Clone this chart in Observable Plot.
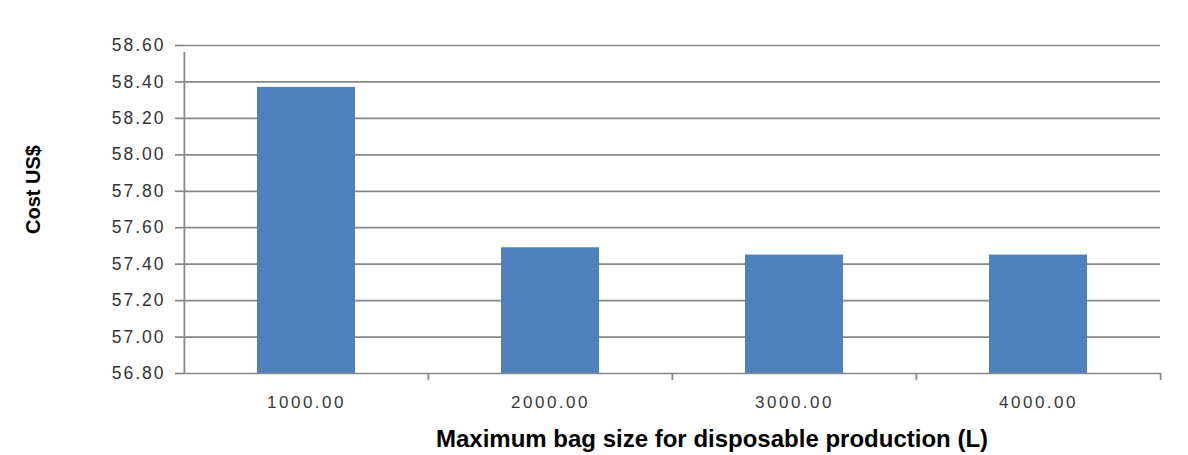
<!DOCTYPE html>
<html>
<head>
<meta charset="utf-8">
<script src="https://cdn.jsdelivr.net/npm/d3@7"></script>
<script src="https://cdn.jsdelivr.net/npm/@observablehq/plot@0.6"></script>
<style>
  body { margin: 0; background: #fff; }
  g[aria-label="y-axis tick label"] text { letter-spacing: 2px; }
  g[aria-label="x-axis tick label"] text { letter-spacing: 2.5px; }
  g[aria-label="y-title"] text { letter-spacing: 3.5px; }
  g[aria-label="x-title"] text { letter-spacing: 0.6px; }
</style>
</head>
<body>
<div id="chart"></div>
<script>
// Cost per bag size
const bagSizes = ["1000.00", "2000.00", "3000.00", "4000.00"];
const costs = [58.37, 57.49, 57.45, 57.45];
const yTicks = [56.8, 57.0, 57.2, 57.4, 57.6, 57.8, 58.0, 58.2, 58.4, 58.6];
const xTitle = "Maximum bag size for disposable production (L)";
const yTitle = "Cost US$";

const rows = bagSizes.map((size, i) => ({size, cost: costs[i]}));

const W = 1188, H = 455, mL = 183, mR = 28, mT = 45, mB = 82;
const step = (W - mL - mR) / bagSizes.length;
const gridColor = "#878787";
const yMin = yTicks[0], yMax = yTicks[yTicks.length - 1];

const chart = Plot.plot({
  width: W,
  height: H,
  marginLeft: mL,
  marginRight: mR,
  marginTop: mT,
  marginBottom: mB,
  style: {fontFamily: "'Liberation Sans', Arial, sans-serif", background: "#fff"},
  x: {domain: bagSizes, paddingInner: 0.6, paddingOuter: 0.3},
  y: {domain: [yMin, yMax]},
  marks: [
    // horizontal gridlines
    Plot.ruleY(yTicks.slice(1), {stroke: gridColor, strokeWidth: 1.7}),
    // bars rise from the axis minimum
    Plot.barY(rows, {x: "size", y1: yMin, y2: "cost", fill: "#4F81BD"}),
    // category axis line
    Plot.ruleY([yMin], {stroke: gridColor, strokeWidth: 1.7}),
    // value axis line (left edge of the first category band)
    Plot.ruleX(bagSizes.slice(0, 1), {dx: -step / 2, y1: yMin, y2: yMax, insetBottom: -7, stroke: gridColor, strokeWidth: 1.7}),
    // tick marks between categories
    Plot.ruleX(bagSizes.slice(1), {dx: -step / 2, y1: yMin, y2: yMin, insetBottom: -7, stroke: gridColor, strokeWidth: 1.7}),
    Plot.ruleX(bagSizes.slice(-1), {dx: step / 2, y1: yMin, y2: yMin, insetBottom: -7, stroke: gridColor, strokeWidth: 1.7}),
    Plot.axisY({
      ticks: yTicks,
      tickFormat: d => d.toFixed(2),
      tickSize: 8,
      tickPadding: 10,
      stroke: gridColor,
      strokeWidth: 1.7,
      fill: "#333",
      fontSize: 17.5,
      label: null
    }),
    Plot.axisX({
      tickSize: 0,
      tickPadding: 22,
      fill: "#3a3a3a",
      fontSize: 17,
      label: null
    }),
    Plot.text([yTitle], {
      frameAnchor: "left", textAnchor: "middle", rotate: -90, dx: -150, dy: -20,
      fontWeight: "bold", fontSize: 20, fill: "#000", ariaLabel: "y-title"
    }),
    Plot.text([xTitle], {
      frameAnchor: "bottom", dx: 40, dy: 66, lineAnchor: "middle",
      fontWeight: "bold", fontSize: 24, fill: "#000", ariaLabel: "x-title"
    })
  ]
});

document.getElementById("chart").append(chart);
</script>
</body>
</html>
